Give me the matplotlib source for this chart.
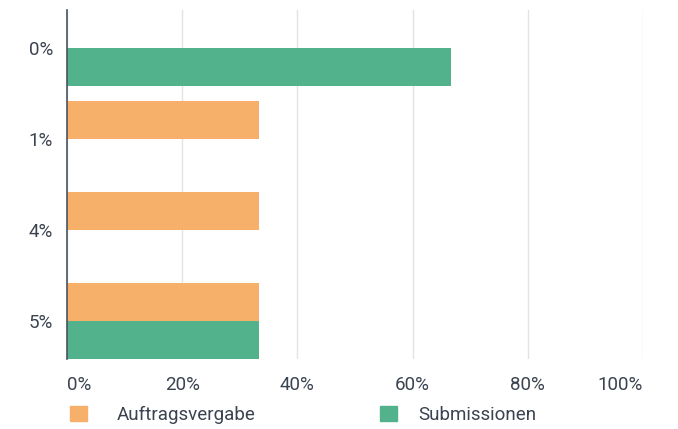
import matplotlib
matplotlib.use("Agg")
import matplotlib.pyplot as plt
from matplotlib.patches import Patch
import numpy as np

plt.rcParams['font.family'] = ['Roboto', 'DejaVu Sans']

categories = ["0%", "1%", "4%", "5%"]
series_names = ["Auftragsvergabe", "Submissionen"]
auftragsvergabe = [0, 33.33, 33.33, 33.33]
submissionen = [66.67, 0, 0, 33.33]
x_ticks = [0, 20, 40, 60, 80, 100]

c_orange = "#F7B06A"
c_green = "#52B28C"
text_c = "#3B4350"
fs = 13.5

fig = plt.figure(figsize=(6.78, 4.29), dpi=100)
ax = fig.add_axes([67/678, 1-359/429, (643-67)/678, (359-10)/429])

y = np.arange(len(categories))
h = 38/91
ax.barh(y - h/2, auftragsvergabe, height=h, color=c_orange, label=series_names[0], zorder=3)
ax.barh(y + h/2, submissionen, height=h, color=c_green, label=series_names[1], zorder=3)

ax.set_xlim(0, 100)
ax.set_ylim(len(categories) - 1 + h, -h)
ax.set_yticks(y)
ax.set_yticklabels(categories)
ax.set_xticks(x_ticks)
ax.set_xticklabels([f"{v}%" for v in x_ticks])
for i, lab in enumerate(ax.get_xticklabels()):
    if i == 0:
        lab.set_horizontalalignment('left')
    elif i == len(x_ticks) - 1:
        lab.set_horizontalalignment('right')

ax.tick_params(axis='both', length=0, labelsize=fs, labelcolor=text_c)
ax.tick_params(axis='y', pad=10)
ax.tick_params(axis='x', pad=12)
for s in ['top', 'right', 'bottom']:
    ax.spines[s].set_visible(False)
ax.spines['left'].set_color('#4a5260')
ax.spines['left'].set_linewidth(1.2)
ax.spines['left'].set_zorder(4)
ax.grid(axis='x', color='#e3e3e3', linewidth=1, zorder=0)
ax.grid(axis='y', visible=False)

leg_specs = [(series_names[0], c_orange, 70, 1.6), (series_names[1], c_green, 380, 1.12)]
for name, col, x0, pad in leg_specs:
    leg = fig.legend(handles=[Patch(color=col, label=name)], loc='center left',
                     bbox_to_anchor=(x0/678, 1-415/429), frameon=False, fontsize=fs,
                     handlelength=0.9, handleheight=0.9, handletextpad=pad,
                     borderpad=0, borderaxespad=0)
    for t in leg.get_texts():
        t.set_color(text_c)

fig.savefig("out.png", dpi=100)
